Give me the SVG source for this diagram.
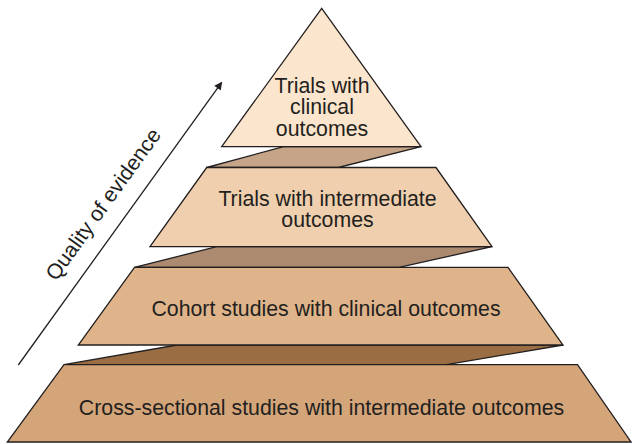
<svg xmlns="http://www.w3.org/2000/svg" width="632" height="444" viewBox="0 0 632 444">
<style>
.s{stroke:#231f20;stroke-width:1.3;stroke-linejoin:miter}
.t{font-family:"Liberation Sans",Arial,Helvetica,sans-serif;font-size:21.3px;fill:#231f20;text-anchor:middle}
</style>
<defs>
<marker id="ah" viewBox="0 0 10 10" refX="9" refY="5" markerWidth="9" markerHeight="8" markerUnits="userSpaceOnUse" orient="auto">
<path d="M0,0 L10,5 L0,10 z" fill="#231f20"/>
</marker>
</defs>
<rect width="632" height="444" fill="#ffffff"/>
<g id="connectors">
<polygon class="s" points="283.5,146.7 421,146.7 338.3,167.5 206.7,167.5" fill="#c6a487"/>
<polygon class="s" points="216.7,246.7 492,246.7 399,267.3 134.5,267.3" fill="#ab8a70"/>
<polygon class="s" points="177,345 563,345 446.5,364.7 64,364.7" fill="#9a6e42"/>
<line x1="18.3" y1="365" x2="221.7" y2="82.3" stroke="#231f20" stroke-width="1.3" marker-end="url(#ah)"/>
</g>
<g id="level1">
<polygon class="s" points="321.7,8.3 421,146.7 221.7,146.7" fill="#fbe5cc"/>
<text class="t" x="322" y="92.5">Trials with</text>
<text class="t" x="322" y="114.3">clinical</text>
<text class="t" x="322" y="136">outcomes</text>
</g>
<g id="level2">
<polygon class="s" points="206.7,167.5 436,167.5 492,246.7 150,246.7" fill="#efcfad"/>
<text class="t" x="327.5" y="205.7">Trials with intermediate</text>
<text class="t" x="327.5" y="227.3">outcomes</text>
</g>
<g id="level3">
<polygon class="s" points="134.5,267.3 508,267.3 563,345 78.3,345" fill="#dfb48a"/>
<text class="t" x="326" y="316">Cohort studies with clinical outcomes</text>
</g>
<g id="level4">
<polygon class="s" points="64,364.7 577.5,364.7 631,442 7.3,442" fill="#d5a57a"/>
<text class="t" x="321.5" y="415">Cross-sectional studies with intermediate outcomes</text>
</g>
<g id="axis-label">
<text class="t" x="109" y="208.4" transform="rotate(-54.3 109 208.4)">Quality of evidence</text>
</g>
</svg>
